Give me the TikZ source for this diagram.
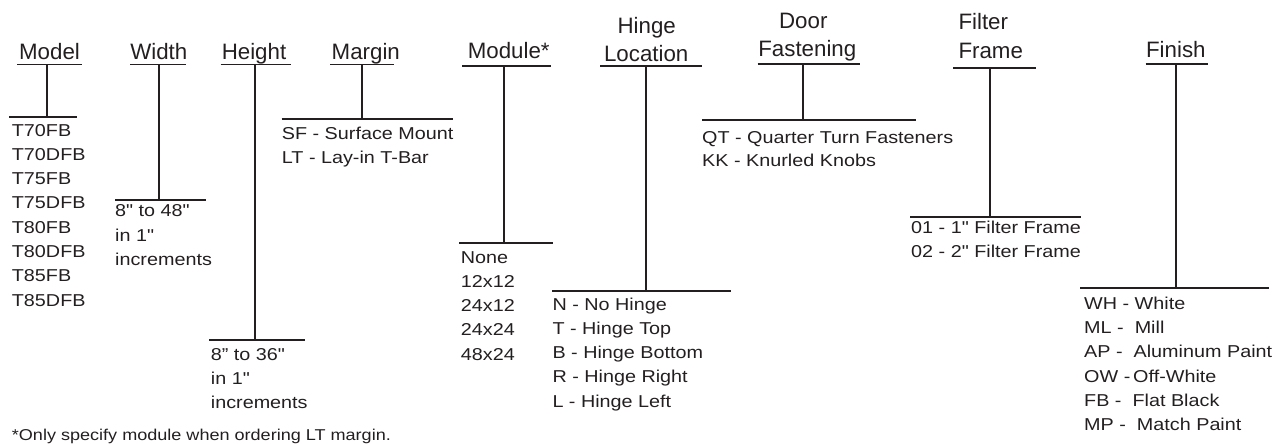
\documentclass[tikz,border=0pt]{standalone}
\usepackage{fontspec}
\setmainfont{Liberation Sans}
\newfontfamily\bodyfam[FakeStretch=1.15]{Liberation Sans}
\definecolor{ink}{HTML}{231F20}
\tikzset{
  ttl/.style={inner sep=0pt, anchor=base, font=\fontsize{22.3}{26}\selectfont, text=ink},
  itm/.style={inner sep=0pt, anchor=base west, font=\bodyfam\fontsize{17.2}{24}\selectfont, text=ink},
  note/.style={inner sep=0pt, anchor=base west, font=\bodyfam\fontsize{15.7}{18}\selectfont, text=ink},
  rule/.style={draw=ink, line width=1.9pt},
}
% name, underline left x, underline right x, underline y, stem x, bar y, bar left x, bar right x
\newcommand\teeshape[8]{%
  \coordinate (#1ul1) at (#2,#4); \coordinate (#1ul2) at (#3,#4);
  \coordinate (#1top) at (#5,#4); \coordinate (#1bot) at (#5,#6);
  \coordinate (#1bar1) at (#7,#6); \coordinate (#1bar2) at (#8,#6);
  \draw[rule] (#1ul1) -- (#1ul2);
  \draw[rule] (#1top) -- (#1bot);
  \draw[rule] (#1bar1) -- (#1bar2);}
\begin{document}
\begin{tikzpicture}[x=1pt,y=-1pt]
\useasboundingbox (0,0) rectangle (1284,444);

% titles
\node[ttl] (tmodel) at (49.5,59.3) {Model};
\node[ttl] (twidth) at (158.8,59.3) {Width};
\node[ttl] (theight) at (254,59.3) {Height};
\node[ttl] (tmargin) at (365.8,59.3) {Margin};
\node[ttl] (tmodule) at (508.7,58.7) {Module*};
\node[ttl] (thinge1) at (646.7,33.3) {Hinge};
\node[ttl] (thinge2) at (646.2,61.7) {Location};
\node[ttl] (tdoor1) at (803.3,28.3) {Door};
\node[ttl] (tdoor2) at (807.3,56.7) {Fastening};
\node[ttl,anchor=base west] (tfilter1) at (958.3,30) {Filter};
\node[ttl,anchor=base west] (tfilter2) at (958.3,58.3) {Frame};
\node[ttl] (tfinish) at (1175.8,57.3) {Finish};

% tee connectors
\teeshape{model}{17}{82}{64.5}{46.7}{117}{9.3}{77}
\teeshape{width}{130}{185.7}{64.5}{158.7}{200}{115}{206}
\teeshape{height}{220.7}{290.7}{64.5}{255}{340}{209}{305}
\teeshape{margin}{330}{394}{64.5}{362.3}{119}{281.7}{452.7}
\teeshape{module}{462.3}{550.7}{66}{504.3}{243.3}{459.3}{553.3}
\teeshape{hinge}{600}{702}{66}{645.7}{290.7}{552.3}{731}
\teeshape{door}{757.7}{860}{64.3}{803.3}{120}{702}{915.7}
\teeshape{filter}{953.3}{1035.7}{68.3}{990}{216.7}{910}{1081}
\teeshape{finish}{1145.7}{1208.3}{64.3}{1176}{288.3}{1080}{1269.3}

% option lists
\foreach \t [count=\i] in {T70FB,T70DFB,T75FB,T75DFB,T80FB,T80DFB,T85FB,T85DFB}
  \node[itm] (lmodel\i) at (11.7,{136+24.3*(\i-1)}) {\t};
\foreach \t [count=\i] in {8" to 48",in 1",increments}
  \node[itm] (lwidth\i) at (115,{216.7+24.5*(\i-1)}) {\t};
\foreach \t [count=\i] in {8” to 36",in 1",increments}
  \node[itm] (lheight\i) at (210.7,{360+24*(\i-1)}) {\t};
\foreach \t [count=\i] in {SF - Surface Mount,LT - Lay-in T-Bar}
  \node[itm] (lmargin\i) at (281.7,{139+24.7*(\i-1)}) {\t};
\foreach \t [count=\i] in {None,12x12,24x12,24x24,48x24}
  \node[itm] (lmodule\i) at (460.7,{263.3+24.2*(\i-1)}) {\t};
\foreach \t [count=\i] in {N - No Hinge,T - Hinge Top,B - Hinge Bottom,R - Hinge Right,L - Hinge Left}
  \node[itm] (lhinge\i) at (552.3,{310+24.3*(\i-1)}) {\t};
\foreach \t [count=\i] in {QT - Quarter Turn Fasteners,KK - Knurled Knobs}
  \node[itm] (ldoor\i) at (702,{143.3+23.6*(\i-1)}) {\t};
\foreach \t [count=\i] in {01 - 1" Filter Frame,02 - 2" Filter Frame}
  \node[itm] (lfilter\i) at (911,{233.3+24.4*(\i-1)}) {\t};
\foreach \t [count=\i] in {WH - White,ML -\ \ Mill,AP -\ \ Aluminum Paint,OW -\,Off-White,FB -\ \ Flat Black,MP -\ \ Match Paint}
  \node[itm] (lfinish\i) at (1084,{309.3+24.3*(\i-1)}) {\t};

\node[note] (footnote) at (11.7,440) {*Only specify module when ordering LT margin.};
\end{tikzpicture}
\end{document}
